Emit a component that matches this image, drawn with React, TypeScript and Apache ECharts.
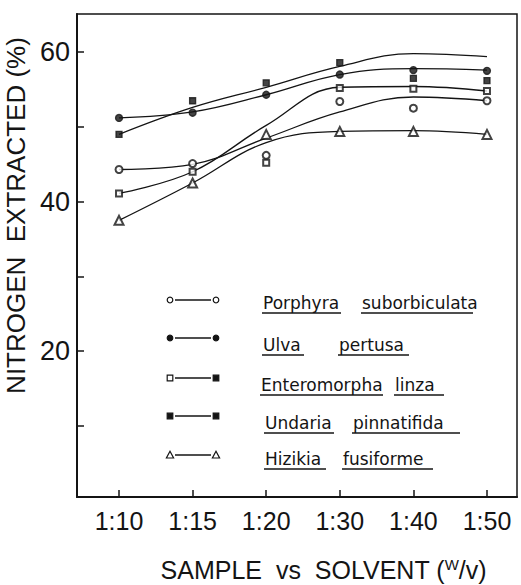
import React, { useEffect, useRef } from "react";
import * as echarts from "echarts";

// ---- data ----
const ratios = ["1:10", "1:15", "1:20", "1:30", "1:40", "1:50"];
const species = [
  "Porphyra suborbiculata",
  "Ulva pertusa",
  "Enteromorpha linza",
  "Undaria pinnatifida",
  "Hizikia fusiforme",
];
// measured points (%)
const porphyraPts = [44.3, 45.1, 46.2, 53.4, 52.5, 53.5];
const ulvaPts = [51.2, 51.9, 54.3, 57.0, 57.6, 57.5];
const enteroPts = [41.1, 44.0, 45.2, 55.2, 55.1, 54.8];
const undariaPts = [49.0, 53.5, 55.9, 58.6, 56.5, 56.2];
const hizikiaPts = [37.5, 42.5, 49.0, 49.4, 49.4, 49.0];
// fitted curves (%)
const porphyraFit = [44.3, 45.0, 48.5, 52.0, 54.0, 53.5];
const ulvaFit = [51.2, 52.0, 54.3, 57.0, 57.8, 57.6];
const enteroFit = [41.1, 44.0, 50.2, 55.3, 55.4, 54.8];
const undariaFit = [49.0, 52.6, 55.3, 58.1, 59.8, 59.4];
const hizikiaFit = [37.5, 42.5, 47.9, 49.4, 49.5, 49.0];
const yTickValues = [10, 20, 30, 40, 50, 60];
const yLabelValues = [20, 40, 60];

const INK = "#141414";

export default function App() {
  const ref = useRef<HTMLDivElement>(null);
  useEffect(() => {
    document.body.style.margin = "0";
    if (!ref.current) return;
    const chart = echarts.init(ref.current, undefined, { renderer: "svg" });

    const toXY = (arr: number[]) => arr.map((v, i) => [i, v]);
    const ptSeries = [
      { d: porphyraPts, sym: "emptyCircle", size: 7 },
      { d: ulvaPts, sym: "circle", size: 7 },
      { d: enteroPts, sym: "emptyRect", size: 6 },
      { d: undariaPts, sym: "rect", size: 6 },
      { d: hizikiaPts, sym: "emptyTriangle", size: 9 },
    ];
    const fits = [porphyraFit, ulvaFit, enteroFit, undariaFit, hizikiaFit];

    const series: any[] = [];
    fits.forEach((f, k) => {
      series.push({
        type: "line",
        name: species[k] + " fit",
        data: toXY(f),
        smooth: 0.4,
        showSymbol: false,
        lineStyle: { color: INK, width: 1.3 },
        z: 2,
      });
    });
    ptSeries.forEach((p, k) => {
      series.push({
        type: "scatter",
        name: species[k],
        data: toXY(p.d),
        symbol: p.sym,
        symbolSize: p.size,
        itemStyle: { color: INK, borderColor: INK, borderWidth: 1.3 },
        z: 3,
      });
    });

    // legend (hand-lettered style) drawn as graphics
    const rows = [
      { ty: 303, sy: 300, w: [[263, 340], [362, 472]], kind: ["emptyCircle", "emptyCircle"] },
      { ty: 345, sy: 338, w: [[263, 303], [339, 408]], kind: ["circle", "circle"] },
      { ty: 385, sy: 378, w: [[261, 382], [395, 443]], kind: ["emptyRect", "rect"] },
      { ty: 423, sy: 416, w: [[265, 333], [353, 459]], kind: ["rect", "rect"] },
      { ty: 459, sy: 455, w: [[265, 325], [343, 432]], kind: ["emptyTriangle", "emptyTriangle"] },
    ];
    const sym = (kind: string, cx: number, cy: number) => {
      const filled = !kind.startsWith("empty");
      const style = { fill: filled ? INK : "#fff", stroke: INK, lineWidth: 1.2 };
      if (kind.toLowerCase().includes("circle"))
        return { type: "circle", shape: { cx, cy, r: 2.8 }, style };
      if (kind.toLowerCase().includes("rect"))
        return { type: "rect", shape: { x: cx - 2.8, y: cy - 2.8, width: 5.6, height: 5.6 }, style };
      return {
        type: "polygon",
        shape: { points: [[cx, cy - 3.8], [cx + 3.6, cy + 3], [cx - 3.6, cy + 3]] },
        style,
      };
    };
    const graphics: any[] = [];
    rows.forEach((r, k) => {
      graphics.push({
        type: "line",
        shape: { x1: 175, y1: r.sy, x2: 211, y2: r.sy },
        style: { stroke: INK, lineWidth: 1.3 },
      });
      graphics.push(sym(r.kind[0], 170, r.sy));
      graphics.push(sym(r.kind[1], 216, r.sy));
      const words = species[k].split(" ");
      words.forEach((wd, j) => {
        const [x0, x1] = r.w[j];
        graphics.push({
          type: "text",
          x: x0,
          y: r.ty,
          style: {
            text: wd,
            fontSize: 17,
            fontFamily: "DejaVu Sans",
            fill: INK,
            align: "left",
            verticalAlign: "middle",
          },
        });
        graphics.push({
          type: "line",
          shape: { x1: x0 - 1, y1: r.ty + 10, x2: x1 + 1, y2: r.ty + 10 },
          style: { stroke: INK, lineWidth: 1.3 },
        });
      });
    });

    chart.setOption({
      animation: false,
      backgroundColor: "#fff",
      grid: {
        left: 77,
        right: 4,
        top: 14,
        bottom: 88,
        show: true,
        borderColor: INK,
        borderWidth: 1.5,
        containLabel: false,
        outerBoundsMode: "none",
      },
      xAxis: {
        type: "value",
        min: -0.571,
        max: 5.408,
        splitLine: { show: false },
        axisLine: { show: true, onZero: false, lineStyle: { color: INK, width: 2 } },
        axisTick: {
          show: true,
          inside: true,
          length: 7,
          customValues: [0, 1, 2, 3, 4, 5],
          lineStyle: { color: INK, width: 1.5 },
        },
        axisLabel: {
          customValues: [0, 1, 2, 3, 4, 5],
          formatter: (v: number) => ratios[Math.round(v)] ?? "",
          fontSize: 25,
          fontFamily: "Liberation Sans",
          color: INK,
          margin: 11,
        },
        name: "SAMPLE  vs  SOLVENT ({sup|W}{t|/v)}",
        nameLocation: "middle",
        nameGap: 60,
        nameTextStyle: {
          fontSize: 25,
          fontFamily: "Liberation Sans",
          color: INK,
          padding: [0, 0, 0, 53],
          rich: {
            sup: { fontSize: 15, fontFamily: "Liberation Sans", color: INK, verticalAlign: "top" },
            t: { fontSize: 25, fontFamily: "Liberation Sans", color: INK },
          },
        },
      },
      yAxis: {
        type: "value",
        min: 0.5,
        max: 65.1,
        splitLine: { show: false },
        axisLine: { show: true, onZero: false, lineStyle: { color: INK, width: 2 } },
        axisTick: {
          show: true,
          inside: true,
          length: 7,
          customValues: yTickValues,
          lineStyle: { color: INK, width: 1.5 },
        },
        axisLabel: {
          customValues: yLabelValues,
          fontSize: 27,
          fontFamily: "Liberation Sans",
          color: INK,
          margin: 7,
        },
        name: "NITROGEN  EXTRACTED (%)",
        nameLocation: "middle",
        nameRotate: 90,
        nameGap: 46,
        nameTextStyle: {
          fontSize: 26,
          fontFamily: "Liberation Sans",
          color: INK,
          padding: [0, 0, 0, 80],
        },
      },
      graphic: graphics,
      series,
    });
    return () => chart.dispose();
  }, []);
  return <div ref={ref} style={{ width: 521, height: 585 }} />;
}
